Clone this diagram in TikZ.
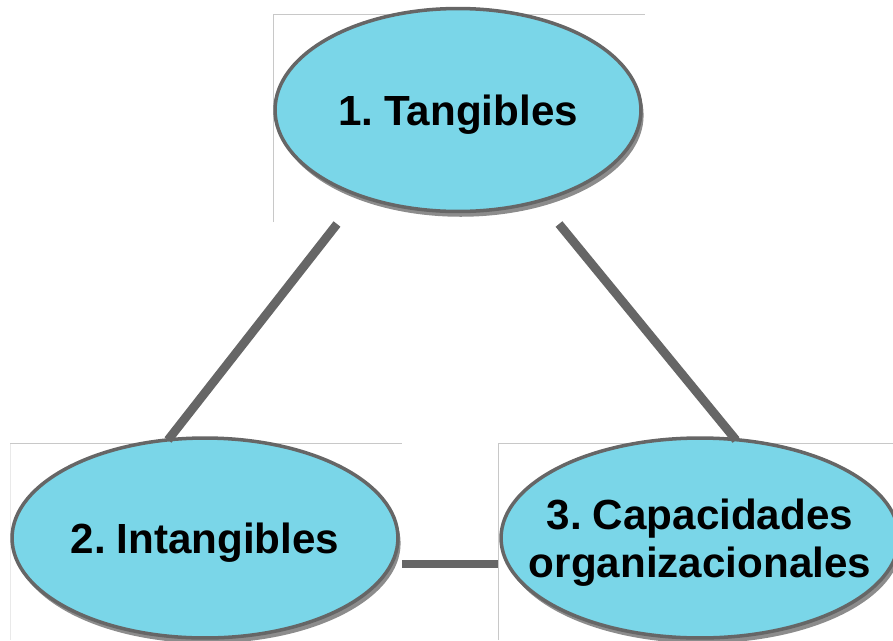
\documentclass[tikz,border=0pt]{standalone}
\usepackage{fontspec}
\setmainfont{Liberation Sans}
\usepackage{tikz}
\usetikzlibrary{shapes.geometric,shadows}

\definecolor{celeste}{RGB}{122,214,232}
\definecolor{borde}{RGB}{102,102,102}
\definecolor{sombra}{RGB}{140,140,140}
\definecolor{marco}{RGB}{200,200,200}

\begin{document}
\begin{tikzpicture}[x=0.02cm,y=-0.02cm,
  recurso/.style={ellipse,draw=borde,line width=2pt,fill=celeste,inner sep=0pt,
    drop shadow={shadow xshift=1.5pt,shadow yshift=-3pt,fill=sombra,opacity=1}},
  texto/.style={font=\fontsize{24}{27}\selectfont\bfseries,
    execute at begin node={\spaceskip=4pt\relax},
    align=center,inner sep=0pt,text depth=0pt},
  enlace/.style={draw=borde,line width=5pt}]
  \useasboundingbox (0,0) rectangle (893,640);

  % marcos
  \draw[marco,line width=0.5pt] (273,222) -- (273,14) -- (645,14);
  \draw[marco!40,line width=0.5pt] (10,640) -- (10,443);
  \draw[marco,line width=0.5pt] (10,443) -- (402,443);
  \draw[marco,line width=0.5pt] (498,640) -- (498,443) -- (893,443);

  \node[recurso,minimum width=7.32cm,minimum height=4.06cm,
        label={[texto]center:1. Tangibles}] (tangibles) at (458,110) {};
  \node[recurso,minimum width=7.72cm,minimum height=4cm,
        label={[texto]center:2. Intangibles}] (intangibles) at (205,538) {};
  \node[recurso,minimum width=7.96cm,minimum height=4cm,
        label={[texto]center:{3. Capacidades\\organizacionales}}] (capacidades) at (700,538) {};

  \coordinate (tanizq) at (337,224);
  \coordinate (tander) at (559,224);
  \coordinate (intarr) at (168,440);
  \coordinate (intder) at (402,564);
  \coordinate (caparr) at (736,440);
  \coordinate (capizq) at (498,564);

  \draw[enlace] (tanizq) -- (intarr);
  \draw[enlace] (tander) -- (caparr);
  \draw[enlace] (intder) -- (capizq);
\end{tikzpicture}
\end{document}
